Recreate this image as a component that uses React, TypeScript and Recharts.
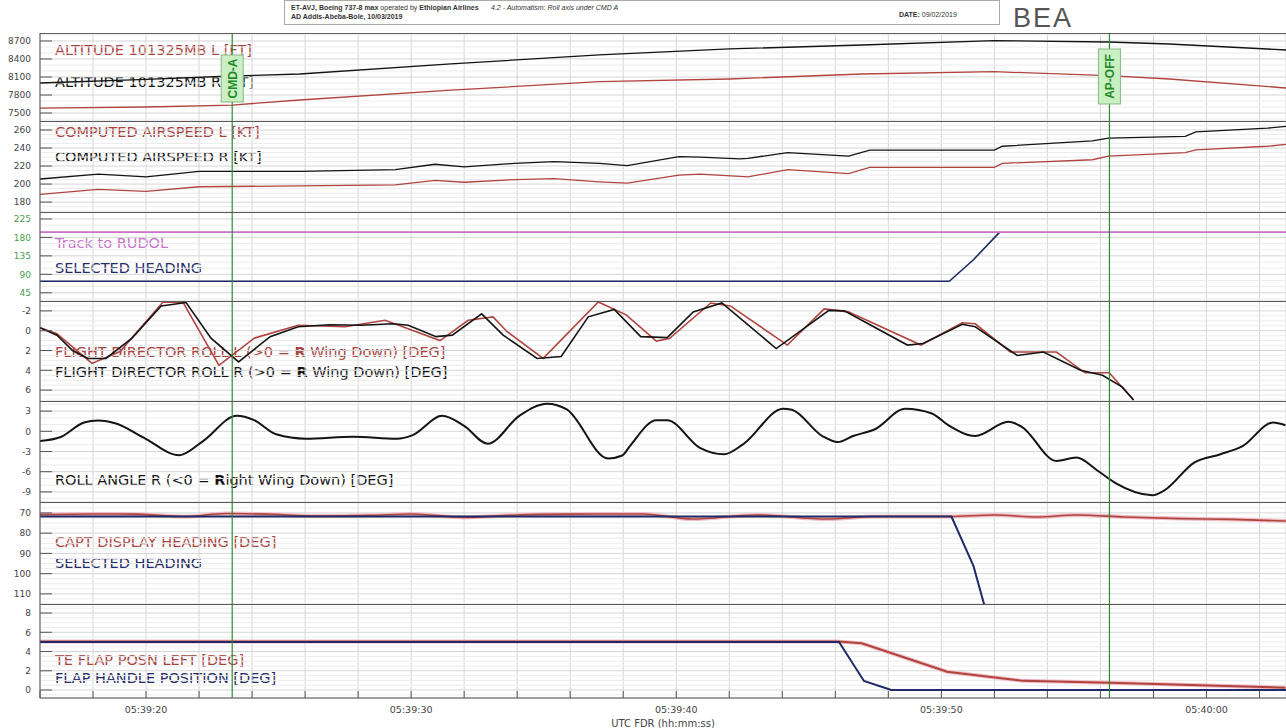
import React from "react";
import { LineChart, Line, XAxis, YAxis, CartesianGrid, ReferenceLine } from "recharts";

// time axis: seconds after 05:39:00 UTC
const timeTicks = [16, 18, 20, 22, 24, 26, 28, 30, 32, 34, 36, 38, 40, 42, 44, 46, 48, 50, 52, 54, 56, 58, 60, 62];
const timeDomain: [number, number] = [16, 63];

const events = [
  { t: 23.25, name: "CMD-A", dy: 22, h: 47 },
  { t: 56.34, name: "AP-OFF", dy: 16, h: 55 },
];

// altitude (ft)
const altT = [16, 20, 23.25, 25.8, 31.5, 37.1, 42.0, 47.0, 52.0, 56.3, 58.6, 63];
const altR = [8000, 8060, 8117, 8150, 8320, 8467, 8567, 8633, 8705, 8683, 8650, 8550];
const altL = [7583, 7600, 7633, 7717, 7880, 8022, 8067, 8150, 8188, 8122, 8067, 7917];

// computed airspeed (kt)
const spdT = [16, 18.2, 20, 22, 25.8, 29.4, 30.9, 32.0, 33.9, 35.4, 37.1, 38.15, 40.1, 40.9, 42.4, 42.7, 44.2, 46.5, 47.3, 52.0, 52.3, 55.7, 56.3, 59.2, 59.6, 62.3, 63];
const spdR = [205.6, 211, 208, 214, 214, 216, 222, 219, 223, 225, 223, 220.5, 230.5, 230, 228, 228.5, 235, 231, 237.6, 237.6, 242, 248, 251, 253, 258, 262, 264];
const spdL = [188.5, 194, 192, 197, 198, 199, 204, 202, 205, 206, 202.5, 201, 210, 211, 208.5, 208, 216, 211.5, 218.5, 218.5, 223, 227, 231, 235, 238, 242, 244];

// track / selected heading (deg)
const trackT = [16, 63];
const track = [193, 193];
const selT = [16, 50.3, 51.2, 52.2];
const sel = [73, 73, 125, 193];

// flight director roll (deg)
const fdRT = [16.0, 16.64, 17.23, 17.81, 18.49, 19.47, 20.57, 21.51, 22.45, 23.49, 24.68, 25.74, 26.91, 28.11, 29.32, 29.89, 30.94, 31.55, 32.66, 33.47, 34.75, 35.66, 36.68, 37.66, 38.66, 39.66, 40.64, 41.72, 43.77, 45.76, 46.34, 48.72, 49.31, 50.79, 51.28, 52.86, 53.85, 55.25, 56.08, 56.83, 57.25];
const fdR = [-0.3, 0.45, 2.0, 2.8, 2.8, 0.75, -2.5, -2.85, 0.75, 3.15, 0.6, -0.4, -0.6, -0.55, -0.7, -0.55, 0.6, 0.45, -1.7, 0.45, 2.8, 2.6, -1.4, -2.15, 0.6, 0.7, -1.9, -2.8, 1.8, -2.05, -2.0, 1.45, 1.3, -0.65, -0.4, 2.5, 2.15, 4.0, 4.5, 5.7, 7.0];
const fdLT = [16.0, 16.64, 17.96, 19.02, 20.64, 21.4, 22.75, 24.08, 25.74, 27.51, 29.02, 31.09, 32.15, 33.09, 33.62, 34.98, 37.06, 38.11, 39.25, 39.74, 41.3, 42.04, 44.19, 45.58, 46.49, 49.23, 50.79, 51.28, 52.6, 54.34, 55.42, 56.33, 57.25];
const fdL = [-0.3, 0.3, 3.3, 2.1, -2.9, -2.85, 3.5, 0.75, -0.55, -0.4, -1.05, 1.0, -1.05, -1.4, 0.1, 2.8, -2.9, -1.6, 1.05, 0.8, -2.8, -2.5, 1.45, -2.2, -1.9, 1.45, -0.8, -0.7, 2.15, 2.15, 4.25, 4.25, 7.0];

// roll angle (deg)
const rollT = [16.0, 16.78, 17.66, 18.19, 18.87, 19.91, 21.25, 22.15, 23.42, 24.08, 24.91, 26.03, 27.81, 29.46, 30.04, 31.17, 32.0, 32.89, 34.08, 35.13, 35.87, 37.43, 37.96, 38.25, 39.25, 39.66, 40.89, 41.8, 42.53, 44.03, 44.36, 45.51, 46.09, 46.67, 47.49, 48.64, 49.64, 50.3, 51.28, 52.53, 53.02, 54.34, 55.09, 55.91, 56.57, 57.96, 58.38, 59.55, 60.53, 61.36, 62.51, 62.98];
const roll = [-1.45, -0.85, 1.3, 1.6, 1.15, -0.95, -3.55, -1.45, 2.3, 1.65, -0.45, -1.1, -0.8, -1.1, -0.6, 2.3, 0.8, -1.85, 2.3, 4.1, 3.25, -4.05, -3.6, -2.2, 1.65, 1.65, -2.45, -3.4, -1.9, 3.35, 3.2, -0.7, -1.6, -0.7, 0.3, 3.35, 2.65, 0.8, -0.7, 1.4, 0.7, -4.4, -3.9, -5.9, -7.7, -9.5, -8.85, -4.6, -3.4, -2.2, 1.3, 0.9];

// captain display heading / selected heading (deg)
const hdgT = [16, 18, 19.5, 21.5, 23, 24.5, 26.5, 28.5, 30, 32, 34, 36, 38.75, 40.6, 43.0, 45.7, 47.5, 50.3, 52.0, 53.6, 55.1, 56.9, 59, 61, 63];
const hdg = [70.8, 70.5, 70.6, 71.8, 70.3, 70.6, 71.5, 71.2, 70.5, 72.2, 71.0, 70.6, 70.5, 73.0, 71.0, 73.0, 71.8, 71.8, 71.0, 72.0, 71.0, 72.0, 72.8, 73.2, 74.0];
const selHdgT = [16, 50.38, 51.21, 51.62];
const selHdg = [71.8, 71.8, 96.2, 115.5];

// flaps (deg)
const teT = [16, 46.1, 47.0, 50.22, 53.1, 56.34, 62.98];
const te = [5.05, 5.05, 4.85, 1.9, 0.95, 0.75, 0.24];
const fhT = [16, 46.14, 47.08, 48.11, 63];
const fh = [5.0, 5.0, 0.94, 0, 0];

const RED = "#b0443f";
const RED_TXT = "#a8423e";
const PINK = "#f0bcc6";
const BLACK = "#141414";
const NAVY = "#1f2a66";
const PURPLE = "#c874cc";
const GREEN = "#2f8a2f";
const FONT = "'DejaVu Sans', sans-serif";

const zip = (t: number[], v: number[]) => t.map((x, i) => ({ t: x, v: v[i] }));

const minorValues = (lo: number, hi: number, step: number) => {
  const out: number[] = [];
  for (let v = Math.ceil(lo / step) * step; v <= hi; v += step) out.push(Math.round(v * 100) / 100);
  return out;
};

const fmtTime = (s: number) => {
  const m = 39 + Math.floor(s / 60);
  const ss = s % 60;
  return `05:${m}:${String(ss).padStart(2, "0")}`;
};

type Series = { data: { t: number; v: number }[]; color: string; width: number; type?: "linear" | "monotone" };
type Panel = {
  top: number;
  height: number;
  domain: [number, number];
  ticks: number[];
  minor: number;
  reversed?: boolean;
  tickColor?: string;
  series: Series[];
  labels: { text: React.ReactNode; color: string; y: number }[];
};

const panels: Panel[] = [
  {
    top: 33, height: 88, domain: [7367, 8833], ticks: [7500, 7800, 8100, 8400, 8700], minor: 100,
    series: [
      { data: zip(altT, altL), color: RED, width: 1.3 },
      { data: zip(altT, altR), color: BLACK, width: 1.3 },
    ],
    labels: [
      { text: "ALTITUDE 101325MB L [FT]", color: RED_TXT, y: 50 },
      { text: "ALTITUDE 101325MB R [FT]", color: BLACK, y: 82 },
    ],
  },
  {
    top: 121, height: 91, domain: [169, 270], ticks: [180, 200, 220, 240, 260], minor: 5,
    series: [
      { data: zip(spdT, spdL), color: RED, width: 1.3 },
      { data: zip(spdT, spdR), color: BLACK, width: 1.3 },
    ],
    labels: [
      { text: "COMPUTED AIRSPEED L [KT]", color: RED_TXT, y: 132 },
      { text: "COMPUTED AIRSPEED R [KT]", color: BLACK, y: 157 },
    ],
  },
  {
    top: 212, height: 89, domain: [25, 242], ticks: [45, 90, 135, 180, 225], minor: 15, tickColor: "#4a9d4a",
    series: [
      { data: zip(selT, sel), color: NAVY, width: 1.6 },
      { data: zip(trackT, track), color: PURPLE, width: 1.6 },
    ],
    labels: [
      { text: "Track to RUDOL", color: PURPLE, y: 243 },
      { text: "SELECTED HEADING", color: NAVY, y: 268 },
    ],
  },
  {
    top: 301, height: 100, domain: [-3, 7.1], reversed: true, ticks: [-2, 0, 2, 4, 6], minor: 0.5,
    series: [
      { data: zip(fdLT, fdL), color: RED, width: 1.6 },
      { data: zip(fdRT, fdR), color: BLACK, width: 1.6 },
    ],
    labels: [
      { text: <>FLIGHT DIRECTOR ROLL L (&gt;0 = <b>R</b> Wing Down) [DEG]</>, color: RED_TXT, y: 352 },
      { text: <>FLIGHT DIRECTOR ROLL R (&gt;0 = <b>R</b> Wing Down) [DEG]</>, color: BLACK, y: 372 },
    ],
  },
  {
    top: 401, height: 101, domain: [-10.5, 4.5], ticks: [-9, -6, -3, 0, 3], minor: 1,
    series: [{ data: zip(rollT, roll), color: BLACK, width: 2, type: "monotone" }],
    labels: [{ text: <>ROLL ANGLE R (&lt;0 = <b>R</b>ight Wing Down) [DEG]</>, color: BLACK, y: 480 }],
  },
  {
    top: 502, height: 102, domain: [64.6, 115], reversed: true, ticks: [70, 80, 90, 100, 110], minor: 2.5,
    series: [
      { data: zip(hdgT, hdg), color: PINK, width: 4, type: "monotone" },
      { data: zip(hdgT, hdg), color: RED, width: 1.6, type: "monotone" },
      { data: zip(selHdgT, selHdg), color: NAVY, width: 2 },
    ],
    labels: [
      { text: "CAPT DISPLAY HEADING [DEG]", color: RED_TXT, y: 542 },
      { text: "SELECTED HEADING", color: NAVY, y: 563 },
    ],
  },
  {
    top: 604, height: 94, domain: [-0.83, 8.94], ticks: [0, 2, 4, 6, 8], minor: 0.5,
    series: [
      { data: zip(teT, te), color: PINK, width: 4 },
      { data: zip(teT, te), color: RED, width: 2 },
      { data: zip(fhT, fh), color: NAVY, width: 2 },
    ],
    labels: [
      { text: "TE FLAP POSN LEFT [DEG]", color: RED_TXT, y: 660 },
      { text: "FLAP HANDLE POSITION [DEG]", color: NAVY, y: 678 },
    ],
  },
];

const YTick = ({ x, y, payload, color }: any) => (
  <g>
    <line x1={x} x2={x + 12} y1={y} y2={y} stroke="#555" />
    <text x={x - 9} y={y} dy={3.3} textAnchor="end" fontSize={9} fontFamily={FONT} fill={color || "#444"}>
      {payload.value}
    </text>
  </g>
);

const TopTick = ({ x, y }: any) => <line x1={x} x2={x} y1={y} y2={y + 7} stroke="#555" />;

const BottomTick = ({ x, y, payload }: any) => (
  <g>
    <line x1={x} x2={x} y1={y - 7} y2={y} stroke="#555" />
    {payload.value % 10 === 0 && (
      <text x={x} y={y + 15} textAnchor="middle" fontSize={9.5} fontFamily={FONT} fill="#444">
        {fmtTime(payload.value)}
      </text>
    )}
  </g>
);

const EventTag = ({ viewBox, name, dy, h }: any) => {
  const { x, y } = viewBox;
  return (
    <g>
      <rect x={x - 11} y={y + dy} width={22} height={h} fill="#c9efc3" stroke="#86b886" />
      <text
        transform={`translate(${x + 4.5}, ${y + dy + h / 2}) rotate(-90)`}
        textAnchor="middle"
        fontSize={12}
        fontWeight="bold"
        fontFamily="'Liberation Sans', Arial, sans-serif"
        fill="#1f8a2a"
      >
        {name}
      </text>
    </g>
  );
};

const PanelChart = ({ p, index }: { p: Panel; index: number }) => {
  const last = index === panels.length - 1;
  const first = index === 0;
  return (
    <div style={{ position: "absolute", left: 0, top: p.top }}>
      <LineChart width={1286} height={p.height + (last ? 30 : 0)} margin={{ top: 0, right: 0, bottom: 0, left: 0 }}>
        <CartesianGrid stroke="#d6d6d6" />
        {minorValues(p.domain[0], p.domain[1], p.minor)
          .filter((v) => !p.ticks.includes(v))
          .map((v) => (
            <ReferenceLine key={v} y={v} stroke="#ececec" />
          ))}
        {last ? (
          <XAxis
            dataKey="t"
            type="number"
            domain={timeDomain}
            ticks={timeTicks}
            interval={0}
            allowDataOverflow
            height={30}
            tickSize={0}
            tickMargin={0}
            tickLine={false}
            axisLine={{ stroke: "#555" }}
            tick={BottomTick}
            label={{ value: "UTC FDR (hh:mm:ss)", position: "insideBottom", offset: 1, fill: "#444", fontSize: 10, fontFamily: FONT }}
          />
        ) : null}
        <XAxis
          xAxisId={last ? "top" : 0}
          dataKey="t"
          type="number"
          orientation="top"
          domain={timeDomain}
          ticks={timeTicks}
          interval={0}
          allowDataOverflow
          height={0}
          tickSize={0}
          tickMargin={0}
          tickLine={false}
          axisLine={false}
          tick={TopTick}
        />
        <YAxis
          type="number"
          domain={p.domain}
          ticks={p.ticks}
          reversed={p.reversed}
          allowDataOverflow
          interval={0}
          width={40}
          tickSize={0}
          tickMargin={0}
          tickLine={false}
          axisLine={{ stroke: "#555" }}
          tick={(props: any) => <YTick {...props} color={p.tickColor} />}
        />
        {p.series.map((s, i) => (
          <Line
            key={i}
            data={s.data}
            dataKey="v"
            type={s.type || "linear"}
            stroke={s.color}
            strokeWidth={s.width}
            dot={false}
            isAnimationActive={false}
          />
        ))}
        {events.map((e) => (
          <ReferenceLine
            key={e.name}
            x={e.t}
            stroke={GREEN}
            strokeWidth={1.2}
            label={first ? (lp: any) => <EventTag viewBox={lp.viewBox} name={e.name} dy={e.dy} h={e.h} /> : undefined}
          />
        ))}
      </LineChart>
    </div>
  );
};

export default function App() {
  return (
    <div style={{ position: "absolute", left: 0, top: 0, width: 1286, height: 728, background: "#fff", overflow: "hidden" }}>
      {/* header */}
      <div
        style={{
          position: "absolute", left: 284, top: 0, width: 714, height: 23, border: "1px solid #aaa",
          fontFamily: "'Liberation Sans', Arial, sans-serif", fontSize: 7, color: "#333", lineHeight: "9px",
        }}
      >
        <div style={{ position: "absolute", left: 6, top: 2, whiteSpace: "nowrap" }}>
          <b>ET-AVJ, Boeing 737-8 max</b> operated by <b>Ethiopian Airlines</b>
        </div>
        <div style={{ position: "absolute", left: 6, top: 11, whiteSpace: "nowrap" }}>
          <b>AD Addis-Abeba-Bole, 10/03/2019</b>
        </div>
        <div style={{ position: "absolute", left: 206, top: 2, fontStyle: "italic", whiteSpace: "nowrap" }}>
          4.2 - Automatism: Roll axis under CMD A
        </div>
        <div style={{ position: "absolute", left: 614, top: 9, whiteSpace: "nowrap" }}>
          <b>DATE:</b> 09/02/2019
        </div>
      </div>
      <div
        style={{
          position: "absolute", left: 1013, top: 3, fontFamily: "'Liberation Sans', Arial, sans-serif",
          fontSize: 27, color: "#555", letterSpacing: 2,
        }}
      >
        BEA
      </div>

      {/* series labels (drawn under the plots) */}
      {panels.flatMap((p, i) =>
        p.labels.map((l, j) => (
          <div
            key={`${i}-${j}`}
            style={{
              position: "absolute", left: 55, top: l.y - 9, lineHeight: "18px", fontSize: 14.5,
              fontFamily: FONT, color: l.color, whiteSpace: "nowrap",
            }}
          >
            {l.text}
          </div>
        ))
      )}

      {panels.map((p, i) => (
        <PanelChart key={i} p={p} index={i} />
      ))}

      {/* panel separators */}
      {panels.map((p, i) => (
        <div key={`sep-${i}`} style={{ position: "absolute", left: 40, top: p.top, width: 1246, height: 1, background: "#5a5a5a" }} />
      ))}
    </div>
  );
}
